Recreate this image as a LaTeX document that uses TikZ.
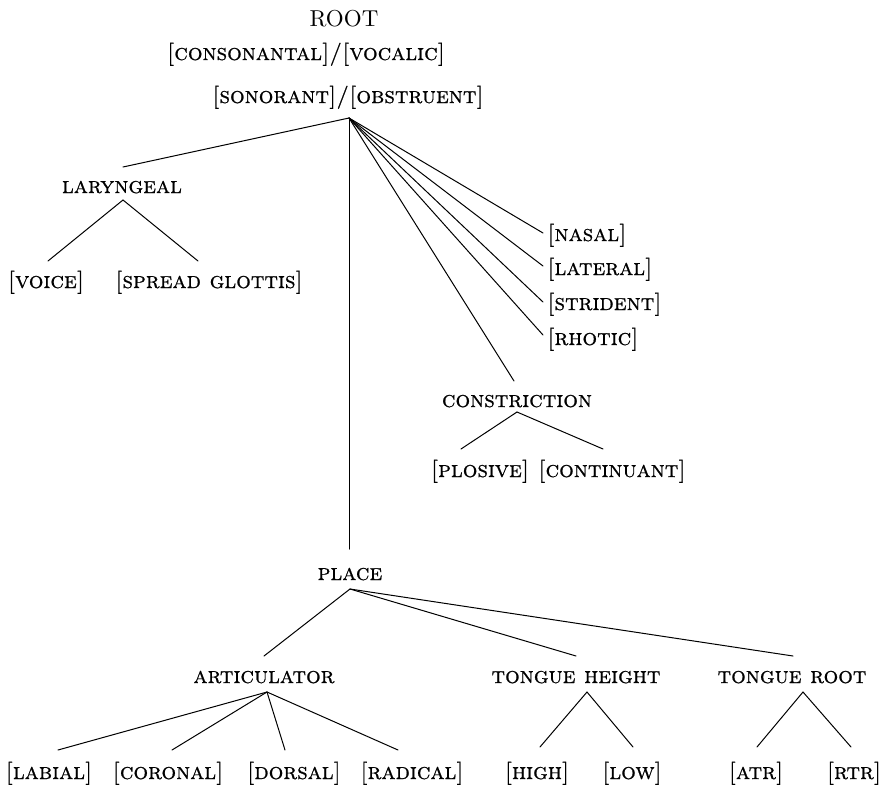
\documentclass[tikz,border=0pt]{standalone}
\usepackage{fontspec}
\setmainfont{lmroman10-regular.otf}[
  SmallCapsFont=lmromancaps10-regular.otf,
  SmallCapsFeatures={FakeBold=0.7}]
\usetikzlibrary{calc}
\begin{document}
\begin{tikzpicture}[x=1pt,y=-1pt,
  lbl/.style={inner sep=0pt,anchor=base,font=\fontsize{23}{27}\selectfont},
  feat/.style={lbl,execute at begin node=\scshape},
  side/.style={feat,anchor=base west},
  branch/.style={line width=1pt,line cap=round}]
\useasboundingbox (0,0) rectangle (884,785);

% upper part of the tree
\node[lbl]  (root) at (344,26)  {ROOT};
\node[feat] (cv)   at (306,60)  {[consonantal]/[vocalic]};
\node[feat] (so)   at (348,103) {[sonorant]/[obstruent]};

\node[feat] (lar)  at (122,193) {laryngeal};
\node[feat] (voi)  at (46,288)  {[voice]};
\node[feat] (spr)  at (209,288) {[spread glottis]};

\node[side] (nas)  at (547,241) {[nasal]};
\node[side] (lat)  at (547,275) {[lateral]};
\node[side] (str)  at (547,310) {[strident]};
\node[side] (rho)  at (547,345) {[rhotic]};

\node[feat] (con)  at (517,407) {constriction};
\node[feat] (plo)  at (480,477) {[plosive]};
\node[feat] (cnt)  at (612,477) {[continuant]};

% place subtree
\node[feat] (pla)  at (350,580) {place};
\node[feat] (art)  at (264,683) {articulator};
\node[feat] (th)   at (576,683) {tongue height};
\node[feat] (tr)   at (792,683) {tongue root};

\node[feat] (lab)  at (49,779)  {[labial]};
\node[feat] (cor)  at (168,779) {[coronal]};
\node[feat] (dor)  at (294,779) {[dorsal]};
\node[feat] (rad)  at (412,779) {[radical]};
\node[feat] (hig)  at (537,779) {[high]};
\node[feat] (low)  at (632,779) {[low]};
\node[feat] (atr)  at (756,779) {[atr]};
\node[feat] (rtr)  at (854,779) {[rtr]};

% branches from the root node
\coordinate (soV) at ($(so.base)+(1,15)$);
\draw[branch] (soV) -- ($(lar.base)+(1,-26)$);
\draw[branch] (soV) -- ($(nas.base west)+(-4,-8)$);
\draw[branch] (soV) -- ($(lat.base west)+(-4,-9)$);
\draw[branch] (soV) -- ($(str.base west)+(-4,-8)$);
\draw[branch] (soV) -- ($(rho.base west)+(-4,-10)$);
\draw[branch] (soV) -- ($(con.base)+(-3,-26)$);
\draw[branch] (soV) -- ($(pla.base)+(-1,-31)$);

% laryngeal
\coordinate (larV) at ($(lar.base)+(1,7)$);
\draw[branch] (larV) -- ($(voi.base)+(2,-27)$);
\draw[branch] (larV) -- ($(spr.base)+(-11,-27)$);

% constriction
\coordinate (conV) at ($(con.base)+(0,5)$);
\draw[branch] (conV) -- ($(plo.base)+(-19,-28)$);
\draw[branch] (conV) -- ($(cnt.base)+(-9,-28)$);

% place
\coordinate (plaV) at ($(pla.base)+(0,9)$);
\draw[branch] (plaV) -- ($(art.base)+(0,-27)$);
\draw[branch] (plaV) -- ($(th.base)+(0,-27)$);
\draw[branch] (plaV) -- ($(tr.base)+(1,-27)$);

% articulator
\coordinate (artV) at ($(art.base)+(3,9)$);
\draw[branch] (artV) -- ($(lab.base)+(9,-29)$);
\draw[branch] (artV) -- ($(cor.base)+(4,-29)$);
\draw[branch] (artV) -- ($(dor.base)+(-9,-29)$);
\draw[branch] (artV) -- ($(rad.base)+(-14,-29)$);

% tongue height and tongue root
\coordinate (thV) at ($(th.base)+(11,9)$);
\draw[branch] (thV) -- ($(hig.base)+(3,-32)$);
\draw[branch] (thV) -- ($(low.base)+(1,-32)$);
\coordinate (trV) at ($(tr.base)+(11,9)$);
\draw[branch] (trV) -- ($(atr.base)+(1,-32)$);
\draw[branch] (trV) -- ($(rtr.base)+(-3,-32)$);
\end{tikzpicture}
\end{document}
